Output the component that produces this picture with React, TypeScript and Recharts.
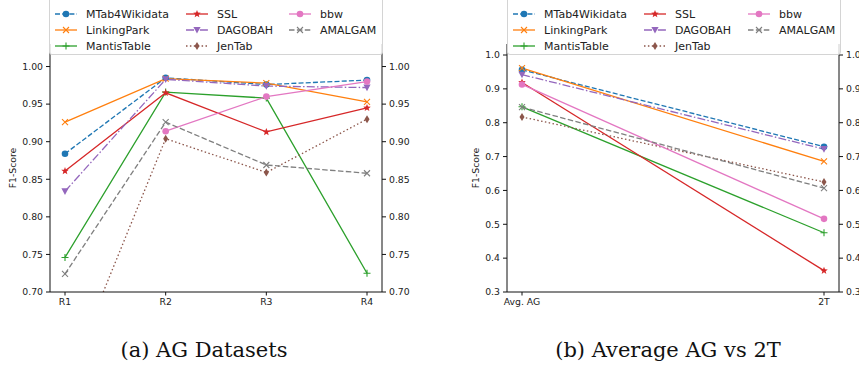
import React from "react";
import { LineChart, Line, XAxis, YAxis } from "recharts";

// ── data: (a) AG datasets ────────────────────────────────────────────────────

const agRounds = ["R1", "R2", "R3", "R4"];
const agMTab4Wikidata = [0.884, 0.985, 0.976, 0.982];
const agLinkingPark = [0.926, 0.984, 0.978, 0.953];
const agMantisTable = [0.746, 0.966, 0.958, 0.725];
const agSSL = [0.861, 0.965, 0.913, 0.945];
const agDAGOBAH = [0.834, 0.983, 0.974, 0.972];
const agJenTab = [0.575, 0.904, 0.859, 0.93];
const agAMALGAM = [0.724, 0.926, 0.869, 0.858];
const agBbw = [null, 0.914, 0.96, 0.98];
const agTicks = [0.7, 0.75, 0.8, 0.85, 0.9, 0.95, 1.0];

// ── data: (b) average AG vs 2T ───────────────────────────────────────────────

const cmpGroups = ["Avg. AG", "2T"];
const cmpMTab4Wikidata = [0.956, 0.729];
const cmpLinkingPark = [0.961, 0.686];
const cmpMantisTable = [0.847, 0.475];
const cmpSSL = [0.919, 0.363];
const cmpDAGOBAH = [0.942, 0.722];
const cmpJenTab = [0.817, 0.625];
const cmpAMALGAM = [0.846, 0.607];
const cmpBbw = [0.913, 0.516];
const cmpTicks = [0.3, 0.4, 0.5, 0.6, 0.7, 0.8, 0.9, 1.0];

// ── series styling ───────────────────────────────────────────────────────────

type MarkerKind = "circle" | "x" | "plus" | "star" | "tri" | "diamond";
interface SeriesDef { key: string; name: string; color: string; dash?: string; marker: MarkerKind }

const SERIES: SeriesDef[] = [
  { key: "mtab", name: "MTab4Wikidata", color: "#1f77b4", dash: "5 2.2", marker: "circle" },
  { key: "lp", name: "LinkingPark", color: "#ff7f0e", marker: "x" },
  { key: "mantis", name: "MantisTable", color: "#2ca02c", marker: "plus" },
  { key: "ssl", name: "SSL", color: "#d62728", marker: "star" },
  { key: "dagobah", name: "DAGOBAH", color: "#9467bd", dash: "8 2.2 1.5 2.2", marker: "tri" },
  { key: "jentab", name: "JenTab", color: "#8c564b", dash: "1.5 2.4", marker: "diamond" },
  { key: "bbw", name: "bbw", color: "#e377c2", marker: "circle" },
  { key: "amalgam", name: "AMALGAM", color: "#7f7f7f", dash: "5.5 2.4", marker: "x" },
];

const agData = agRounds.map((name, i) => ({
  name,
  mtab: agMTab4Wikidata[i], lp: agLinkingPark[i], mantis: agMantisTable[i], ssl: agSSL[i],
  dagobah: agDAGOBAH[i], jentab: agJenTab[i], bbw: agBbw[i], amalgam: agAMALGAM[i],
}));

const cmpData = cmpGroups.map((name, i) => ({
  name,
  mtab: cmpMTab4Wikidata[i], lp: cmpLinkingPark[i], mantis: cmpMantisTable[i], ssl: cmpSSL[i],
  dagobah: cmpDAGOBAH[i], jentab: cmpJenTab[i], bbw: cmpBbw[i], amalgam: cmpAMALGAM[i],
}));

const FONT = "'DejaVu Sans', sans-serif";
const TICK = { fontSize: 9.3, fill: "#222", fontFamily: FONT };

// ── markers ──────────────────────────────────────────────────────────────────

function starPoints(x: number, y: number, ro: number, ri: number) {
  const pts: string[] = [];
  for (let k = 0; k < 10; k++) {
    const r = k % 2 === 0 ? ro : ri;
    const a = -Math.PI / 2 + (k * Math.PI) / 5;
    pts.push(`${x + r * Math.cos(a)},${y + r * Math.sin(a)}`);
  }
  return pts.join(" ");
}

function Marker({ kind, x, y, color }: { kind: MarkerKind; x: number; y: number; color: string }) {
  switch (kind) {
    case "circle":
      return <circle cx={x} cy={y} r={3.3} fill={color} />;
    case "x":
      return (
        <path d={`M${x - 3},${y - 3}L${x + 3},${y + 3}M${x - 3},${y + 3}L${x + 3},${y - 3}`}
          stroke={color} strokeWidth={1.1} fill="none" />
      );
    case "plus":
      return (
        <path d={`M${x - 3.5},${y}L${x + 3.5},${y}M${x},${y - 3.5}L${x},${y + 3.5}`}
          stroke={color} strokeWidth={1.1} fill="none" />
      );
    case "star":
      return <polygon points={starPoints(x, y, 4, 1.7)} fill={color} />;
    case "tri":
      return <polygon points={`${x - 3.6},${y - 3} ${x + 3.6},${y - 3} ${x},${y + 3.6}`} fill={color} />;
    case "diamond":
      return <polygon points={`${x},${y - 4} ${x + 2.5},${y} ${x},${y + 4} ${x - 2.5},${y}`} fill={color} />;
  }
}

function dotFor(s: SeriesDef) {
  // eslint-disable-next-line @typescript-eslint/no-explicit-any
  return (p: any) => {
    const k = `${s.key}-${p.index}`;
    if (p.cx == null || p.cy == null || p.value == null) return <g key={k} />;
    return <g key={k}><Marker kind={s.marker} x={p.cx} y={p.cy} color={s.color} /></g>;
  };
}

// ── legend overlay ───────────────────────────────────────────────────────────

const LEGEND_COLS: string[][] = [
  ["mtab", "lp", "mantis"],
  ["ssl", "dagobah", "jentab"],
  ["bbw", "amalgam"],
];

function LegendBox({ left, width, colX }: { left: number; width: number; colX: number[] }) {
  return (
    <div style={{
      position: "absolute", left, top: -4, width, height: 59,
      background: "rgba(255,255,255,0.8)", border: "1px solid #d4d4d4", borderRadius: 3,
      boxSizing: "border-box",
    }}>
      {LEGEND_COLS.map((col, ci) =>
        col.map((key, ri) => {
          const s = SERIES.find((d) => d.key === key)!;
          const cy = 17 + ri * 16;
          return (
            <div key={key} style={{ position: "absolute", left: colX[ci] - left, top: cy - 8, height: 16, display: "flex", alignItems: "center" }}>
              <svg width={22} height={16} style={{ overflow: "visible" }}>
                <line x1={0} x2={22} y1={8} y2={8} stroke={s.color} strokeWidth={1.3} strokeDasharray={s.dash} />
                <Marker kind={s.marker} x={11} y={8} color={s.color} />
              </svg>
              <span style={{ marginLeft: 9, fontFamily: FONT, fontSize: 11, color: "#222", whiteSpace: "nowrap" }}>{s.name}</span>
            </div>
          );
        })
      )}
    </div>
  );
}

// ── panel ────────────────────────────────────────────────────────────────────

interface PanelProps {
  // eslint-disable-next-line @typescript-eslint/no-explicit-any
  data: any[];
  domain: [number, number];
  ticks: number[];
  digits: number;
  left: number;
  width: number;
  leftAxisWidth: number;
  rightAxisWidth: number;
  labelDx: number;
}

function Panel({ data, domain, ticks, digits, left, width, leftAxisWidth, rightAxisWidth, labelDx }: PanelProps) {
  const fmt = (v: number) => v.toFixed(digits);
  const axisLine = { stroke: "#111", strokeWidth: 1 };
  return (
    <div style={{ position: "absolute", left, top: 32 }}>
      <LineChart width={width} height={290} data={data} margin={{ top: 12, right: 0, bottom: 0, left: 0 }}>
        <XAxis dataKey="name" height={30} padding={{ left: 15, right: 15 }} tick={TICK}
          tickSize={3.5} tickMargin={3} axisLine={axisLine} tickLine={{ stroke: "#111" }} interval={0} />
        <YAxis yAxisId="l" width={leftAxisWidth} domain={domain} ticks={ticks} allowDataOverflow
          tickFormatter={fmt} tick={TICK} tickSize={4} tickMargin={3} axisLine={axisLine} tickLine={{ stroke: "#111" }}
          label={{ value: "F1-Score", angle: -90, position: "insideLeft", offset: 0, dx: labelDx, dy: 0,
            style: { fontSize: 9.3, fill: "#222", fontFamily: FONT, textAnchor: "middle" } }} />
        <YAxis yAxisId="r" orientation="right" width={rightAxisWidth} domain={domain} ticks={ticks} allowDataOverflow
          tickFormatter={fmt} tick={TICK} tickSize={4} tickMargin={3} axisLine={axisLine} tickLine={{ stroke: "#111" }} />
        {SERIES.map((s) => (
          <Line key={s.key} yAxisId="l" dataKey={s.key} name={s.name} type="linear" stroke={s.color}
            strokeWidth={1.3} strokeDasharray={s.dash} dot={dotFor(s)} activeDot={false}
            isAnimationActive={false} connectNulls={false} />
        ))}
      </LineChart>
    </div>
  );
}

const CAPTION = {
  position: "absolute" as const, top: 338, textAlign: "center" as const,
  fontFamily: "'DejaVu Serif', serif", fontSize: 21, color: "#111", whiteSpace: "nowrap" as const,
};

export default function App() {
  return (
    <div style={{ position: "absolute", left: 0, top: 0, width: 859, height: 372, overflow: "hidden", background: "#fff" }}>
      <Panel data={agData} domain={[0.7, 1.03]} ticks={agTicks} digits={2}
        left={0} width={430} leftAxisWidth={50} rightAxisWidth={48} labelDx={13} />
      <Panel data={cmpData} domain={[0.3, 1.0325]} ticks={cmpTicks} digits={1}
        left={430} width={450} leftAxisWidth={77} rightAxisWidth={41} labelDx={46} />
      <LegendBox left={49} width={334} colX={[54, 185, 288]} />
      <LegendBox left={507} width={334} colX={[512, 643, 747]} />
      <div style={{ ...CAPTION, left: 54, width: 300 }}>(a) AG Datasets</div>
      <div style={{ ...CAPTION, left: 518, width: 300 }}>(b) Average AG vs 2T</div>
    </div>
  );
}
